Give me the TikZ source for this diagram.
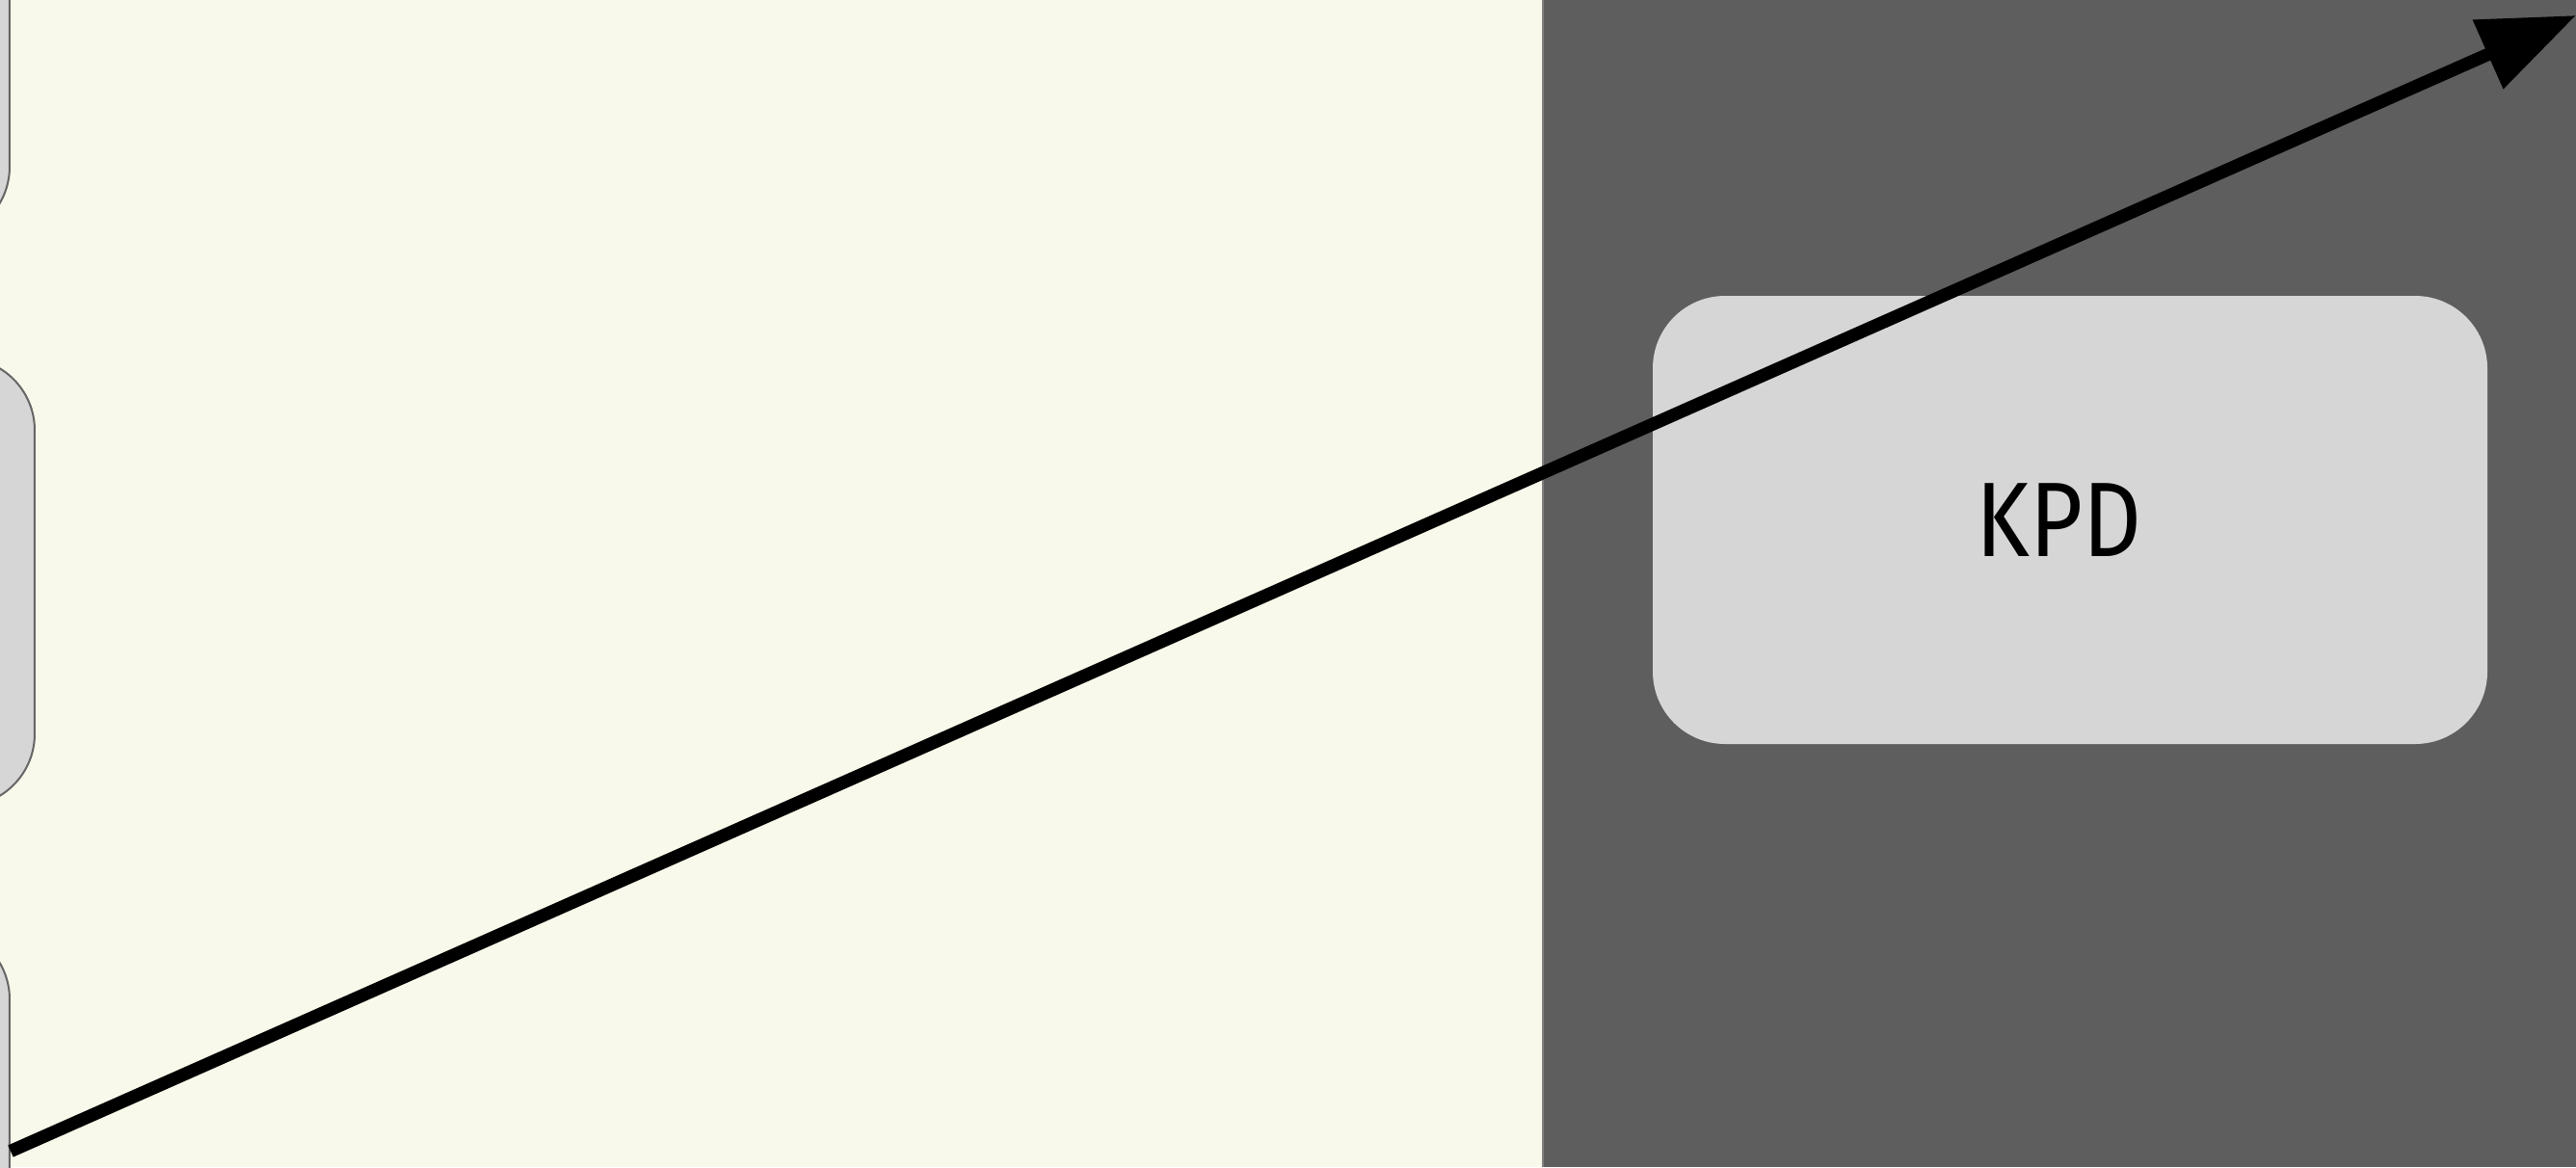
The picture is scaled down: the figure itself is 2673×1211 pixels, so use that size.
\documentclass[tikz,border=0pt]{standalone}
\usepackage{fontspec}
\newfontfamily\kpdfont[FakeStretch=0.86]{Fira Sans}
\usetikzlibrary{arrows.meta}
\definecolor{paleback}{HTML}{F8F9EA}
\definecolor{darkback}{HTML}{5E5E5E}
\definecolor{boxfill}{HTML}{D6D6D6}
\definecolor{boxline}{HTML}{666666}

\tikzset{every picture/.style={line width=0.75pt}}

\begin{document}
\begin{tikzpicture}[
            x=0.3pt,
            y=0.3pt,
            yscale=-1,
            xscale=1,
            every node/.style={text=black},
            stagebox/.style={fill=boxfill, draw=boxline, line width=0.6pt, rounded corners=22.5pt,
                minimum width=259.8pt, minimum height=139.5pt, inner sep=0pt},
            flowarrow/.style={draw=black, line width=4pt, -{Triangle[length=30pt, width=22.5pt]}}
        ]
            \useasboundingbox (0,0) rectangle (2673,1211);
            \clip (0,0) rectangle (2673,1211);
            \fill[paleback] (0,0) rectangle (1601,1211);
            \fill[darkback] (1601,0) rectangle (2673,1211);
            \draw[color=gray, line width=0.5pt] (1601,0) -- (1601,1211);

            \node[stagebox] (upper) at (-423,15.5) {};
            \node[stagebox] (middle) at (-397,604) {};
            \node[stagebox] (lower) at (-423,1194.5) {};
            \node[stagebox, draw=none] (kpd) at (2148,539.5) {\kpdfont\fontsize{33pt}{40pt}\selectfont\hspace*{-7pt}KPD};

            \coordinate (target) at (2673,16);
            \draw[flowarrow] (lower.east) -- (target);
        \end{tikzpicture}
\end{document}
